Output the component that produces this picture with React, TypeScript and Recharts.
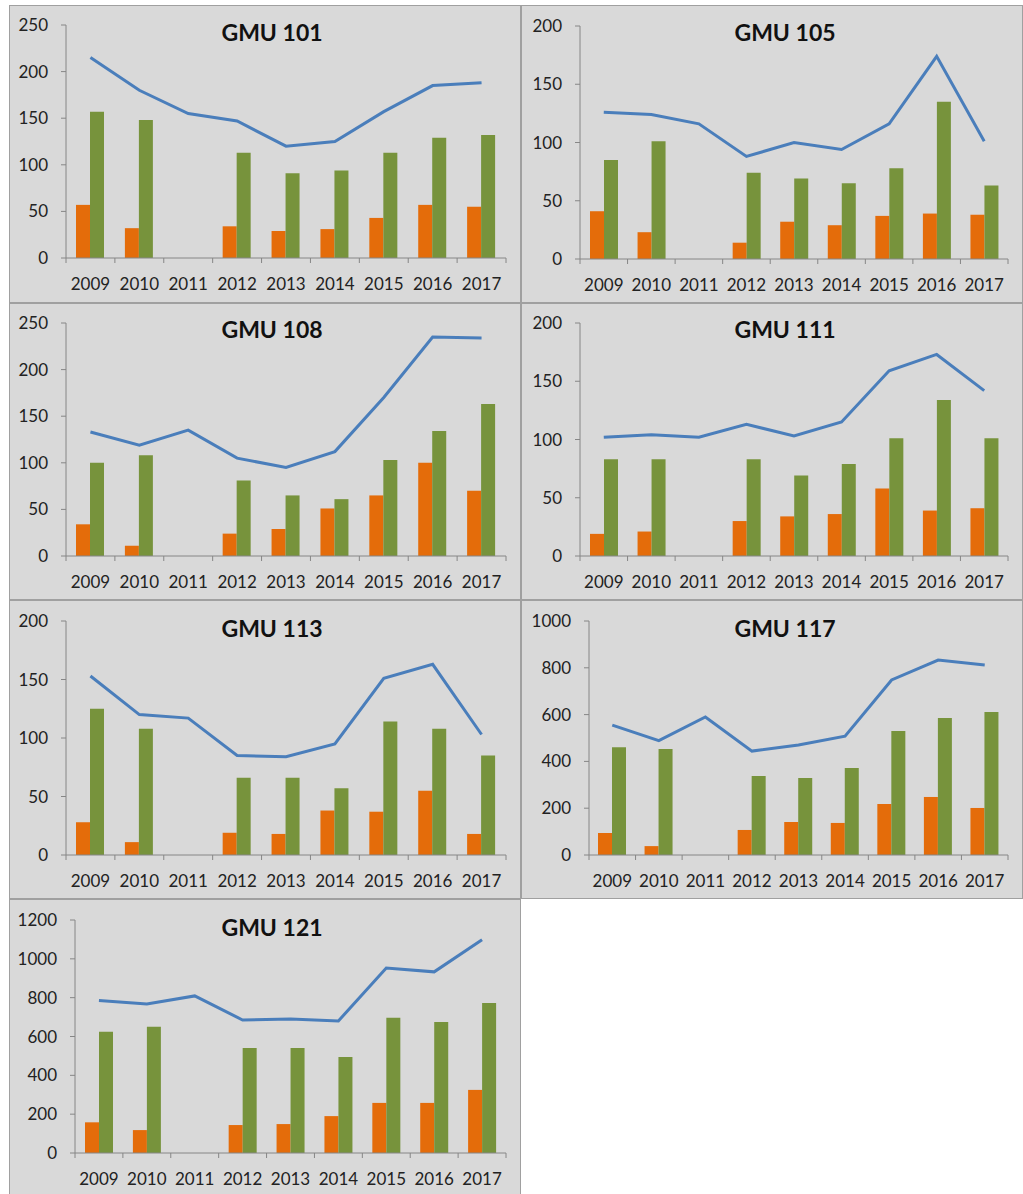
import React from 'react';
import { ComposedChart, Bar, Line, XAxis, YAxis } from 'recharts';

const categories = ['2009', '2010', '2011', '2012', '2013', '2014', '2015', '2016', '2017'];

const titles = ['GMU 101', 'GMU 105', 'GMU 108', 'GMU 111', 'GMU 113', 'GMU 117', 'GMU 121'];

const gmu101Orange = [57, 32, null, 34, 29, 31, 43, 57, 55];
const gmu101Green = [157, 148, null, 113, 91, 94, 113, 129, 132];
const gmu101Total = [215, 180, 155, 147, 120, 125, 157, 185, 188];

const gmu105Orange = [41, 23, null, 14, 32, 29, 37, 39, 38];
const gmu105Green = [85, 101, null, 74, 69, 65, 78, 135, 63];
const gmu105Total = [126, 124, 116, 88, 100, 94, 116, 174, 101];

const gmu108Orange = [34, 11, null, 24, 29, 51, 65, 100, 70];
const gmu108Green = [100, 108, null, 81, 65, 61, 103, 134, 163];
const gmu108Total = [133, 119, 135, 105, 95, 112, 170, 235, 234];

const gmu111Orange = [19, 21, null, 30, 34, 36, 58, 39, 41];
const gmu111Green = [83, 83, null, 83, 69, 79, 101, 134, 101];
const gmu111Total = [102, 104, 102, 113, 103, 115, 159, 173, 142];

const gmu113Orange = [28, 11, null, 19, 18, 38, 37, 55, 18];
const gmu113Green = [125, 108, null, 66, 66, 57, 114, 108, 85];
const gmu113Total = [153, 120, 117, 85, 84, 95, 151, 163, 103];

const gmu117Orange = [94, 38, null, 107, 141, 137, 218, 248, 201];
const gmu117Green = [461, 453, null, 338, 329, 372, 530, 585, 611];
const gmu117Total = [555, 489, 590, 444, 470, 508, 748, 833, 812];

const gmu121Orange = [158, 118, null, 144, 149, 190, 258, 258, 325];
const gmu121Green = [624, 650, null, 541, 541, 495, 696, 675, 773];
const gmu121Total = [786, 768, 809, 685, 690, 680, 953, 933, 1098];

const ticks250 = [0, 50, 100, 150, 200, 250];
const ticks200 = [0, 50, 100, 150, 200];
const ticks1000 = [0, 200, 400, 600, 800, 1000];
const ticks1200 = [0, 200, 400, 600, 800, 1000, 1200];

const seriesSets = [
  { orange: gmu101Orange, green: gmu101Green, total: gmu101Total, ticks: ticks250 },
  { orange: gmu105Orange, green: gmu105Green, total: gmu105Total, ticks: ticks200 },
  { orange: gmu108Orange, green: gmu108Green, total: gmu108Total, ticks: ticks250 },
  { orange: gmu111Orange, green: gmu111Green, total: gmu111Total, ticks: ticks200 },
  { orange: gmu113Orange, green: gmu113Green, total: gmu113Total, ticks: ticks200 },
  { orange: gmu117Orange, green: gmu117Green, total: gmu117Total, ticks: ticks1000 },
  { orange: gmu121Orange, green: gmu121Green, total: gmu121Total, ticks: ticks1200 },
];

// layout: panel box (L,T,W,H) and plot rect (px,py,pw,ph), title center (tx,ty)
const layouts = [
  { L: 9, T: 5, W: 512, H: 298, px: 66, py: 25, pw: 440, ph: 233, tx: 272, ty: 32 },
  { L: 521, T: 5, W: 502, H: 298, px: 580, py: 26, pw: 428, ph: 233, tx: 785, ty: 32 },
  { L: 9, T: 303, W: 512, H: 297, px: 66, py: 323, pw: 440, ph: 233, tx: 272, ty: 329 },
  { L: 521, T: 303, W: 502, H: 297, px: 580, py: 323, pw: 428, ph: 233, tx: 785, ty: 329 },
  { L: 9, T: 600, W: 512, H: 299, px: 66, py: 621, pw: 440, ph: 234, tx: 272, ty: 628 },
  { L: 521, T: 600, W: 502, H: 299, px: 589, py: 621, pw: 419, ph: 234, tx: 785, ty: 628 },
  { L: 9, T: 899, W: 512, H: 296, px: 75, py: 920, pw: 431, ph: 233, tx: 272, ty: 927 },
];

const ORANGE = '#E46C0A';
const GREEN = '#77933C';
const BLUE = '#4A7EBB';
const AXIS = '#868686';
const BG = '#D9D9D9';
const BORDER = '#A0A0A0';
const FONT = 'Lato, "Open Sans", sans-serif';

const XTick = (props: any) => {
  const { x, y, payload, index, bw } = props;
  return (
    <g>
      <line x1={x - bw / 2} y1={y} x2={x - bw / 2} y2={y + 5} stroke={AXIS} strokeWidth={1} />
      {index === categories.length - 1 && (
        <line x1={x + bw / 2} y1={y} x2={x + bw / 2} y2={y + 5} stroke={AXIS} strokeWidth={1} />
      )}
      <text x={x} y={y + 32} textAnchor="middle" fontSize={17} fontFamily={FONT} fill="#222">
        {payload.value}
      </text>
    </g>
  );
};

const Panel = ({ i }: { i: number }) => {
  const lay = layouts[i];
  const s = seriesSets[i];
  const data = categories.map((c, k) => ({
    year: c,
    orange: s.orange[k],
    green: s.green[k],
    total: s.total[k],
  }));
  const bw = lay.pw / categories.length;
  const yMax = s.ticks[s.ticks.length - 1];
  return (
    <>
      <div
        style={{
          position: 'absolute',
          left: lay.L,
          top: lay.T,
          width: lay.W,
          height: lay.H,
          background: BG,
          border: `1px solid ${BORDER}`,
          boxSizing: 'border-box',
        }}
      />
      <div style={{ position: 'absolute', left: lay.L, top: lay.T }}>
        <ComposedChart
          width={lay.W}
          height={lay.H}
          data={data}
          margin={{ top: lay.py - lay.T, right: lay.L + lay.W - (lay.px + lay.pw), left: 0, bottom: 0 }}
          barGap={0}
        >
          <XAxis
            dataKey="year"
            height={lay.T + lay.H - (lay.py + lay.ph)}
            axisLine={{ stroke: AXIS }}
            tickLine={false}
            tickSize={0}
            tickMargin={0}
            interval={0}
            tick={(p: any) => <XTick {...p} bw={bw} />}
          />
          <YAxis
            width={lay.px - lay.L}
            domain={[0, yMax]}
            ticks={s.ticks}
            interval={0}
            axisLine={{ stroke: AXIS }}
            tickLine={{ stroke: AXIS }}
            tickSize={5}
            tickMargin={13}
            tick={{ fontSize: 17, fontFamily: FONT, fill: '#222' }}
          />
          <Bar dataKey="orange" fill={ORANGE} barSize={14} isAnimationActive={false} />
          <Bar dataKey="green" fill={GREEN} barSize={14} isAnimationActive={false} />
          <Line
            dataKey="total"
            stroke={BLUE}
            strokeWidth={3}
            dot={false}
            type="linear"
            isAnimationActive={false}
          />
        </ComposedChart>
      </div>
      <div
        style={{
          position: 'absolute',
          left: lay.tx - 100,
          width: 200,
          top: lay.ty - 15,
          height: 30,
          lineHeight: '30px',
          textAlign: 'center',
          fontFamily: FONT,
          fontWeight: 'bold',
          fontSize: 23,
          color: '#111',
        }}
      >
        {titles[i]}
      </div>
    </>
  );
};

export default function App() {
  return (
    <div style={{ position: 'absolute', left: 0, top: 0, width: 1023, height: 1194, background: '#fff', overflow: 'hidden' }}>
      {layouts.map((_, i) => (
        <Panel key={i} i={i} />
      ))}
    </div>
  );
}
